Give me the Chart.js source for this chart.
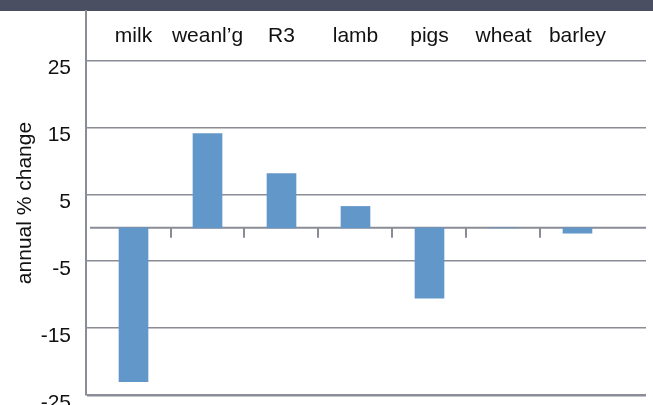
<!DOCTYPE html>
<html>
<head>
<meta charset="utf-8">
<script src="https://cdn.jsdelivr.net/npm/chart.js@4/dist/chart.umd.min.js"></script>
<style>
  html, body { margin: 0; padding: 0; background: #ffffff; }
  #wrap { width: 653px; height: 405px; position: relative; }
</style>
</head>
<body>
<div id="wrap"><canvas id="chart" width="653" height="405"></canvas></div>
<script>
// Annual % change by product
const categories = ['milk', 'weanl\u2019g', 'R3', 'lamb', 'pigs', 'wheat', 'barley'];
const changes = [-23.0, 14.1, 8.1, 3.2, -10.5, 0, -0.8];
const yTicks = [25, 15, 5, -5, -15, -25];
const yTitle = 'annual % change';

const FONT = "'Liberation Sans', Arial, Helvetica, sans-serif";
const LINE = '#8a8c96';
const BAR = '#6297c9';

// Dark strip across the top of the canvas
const topBand = {
  id: 'topBand',
  beforeDraw(chart) {
    const { ctx, width } = chart;
    ctx.save();
    ctx.fillStyle = '#4a5061';
    ctx.fillRect(0, 0, width, chart.chartArea.top);
    ctx.restore();
  }
};

// Zero line with tick marks between categories
const zeroAxis = {
  id: 'zeroAxis',
  beforeDatasetsDraw(chart) {
    const { ctx, chartArea, scales } = chart;
    const y0 = scales.y.getPixelForValue(0);
    ctx.save();
    ctx.strokeStyle = LINE;
    ctx.lineWidth = 2;
    ctx.beginPath();
    ctx.moveTo(chartArea.left + 4, y0);
    ctx.lineTo(chartArea.right, y0);
    for (let i = 0; i < categories.length - 1; i++) {
      const x = Math.round(scales.x.getPixelForValue(i + 0.5));
      ctx.moveTo(x, y0);
      ctx.lineTo(x, y0 + 10);
    }
    ctx.stroke();
    ctx.restore();
  }
};

new Chart(document.getElementById('chart'), {
  type: 'bar',
  data: {
    datasets: [{
      data: categories.map((c, i) => ({ x: i, y: changes[i] })),
      backgroundColor: BAR,
      borderWidth: 0,
      barThickness: 29
    }]
  },
  options: {
    responsive: false,
    animation: false,
    devicePixelRatio: 1,
    layout: { padding: { left: 0, right: 7, top: 11, bottom: 10 } },
    plugins: { legend: { display: false }, tooltip: { enabled: false } },
    scales: {
      x: {
        type: 'linear',
        position: { y: 30.57 },
        offset: false,
        min: -0.642,
        max: 6.926,
        grid: { display: false, drawTicks: false, offset: false },
        border: { display: false },
        afterBuildTicks: s => { s.ticks = categories.map((c, i) => ({ value: i })); },
        afterFit: s => { s.paddingLeft = 0; s.paddingRight = 0; },
        ticks: {
          padding: 0,
          maxRotation: 0,
          autoSkip: false,
          color: '#111111',
          font: { family: FONT, size: 21 },
          callback: v => categories[v]
        }
      },
      y: {
        position: 'left',
        min: -25,
        max: 32.43,
        afterBuildTicks: s => { s.ticks = yTicks.map(v => ({ value: v })); },
        afterFit: s => { s.width = 86; s.paddingTop = 0; s.paddingBottom = 0; },
        grid: {
          color: LINE,
          lineWidth: c => (c.tick && c.tick.value === -25 ? 2.5 : 1.6),
          drawTicks: false
        },
        border: { display: true, color: LINE, width: 2 },
        ticks: {
          padding: 15,
          labelOffset: 8,
          color: '#111111',
          font: { family: FONT, size: 21 },
          callback: v => String(v)
        },
        title: {
          display: true,
          text: yTitle,
          color: '#111111',
          font: { family: FONT, size: 21 },
          padding: { top: 13, bottom: 0 }
        }
      }
    }
  },
  plugins: [topBand, zeroAxis]
});
</script>
</body>
</html>
